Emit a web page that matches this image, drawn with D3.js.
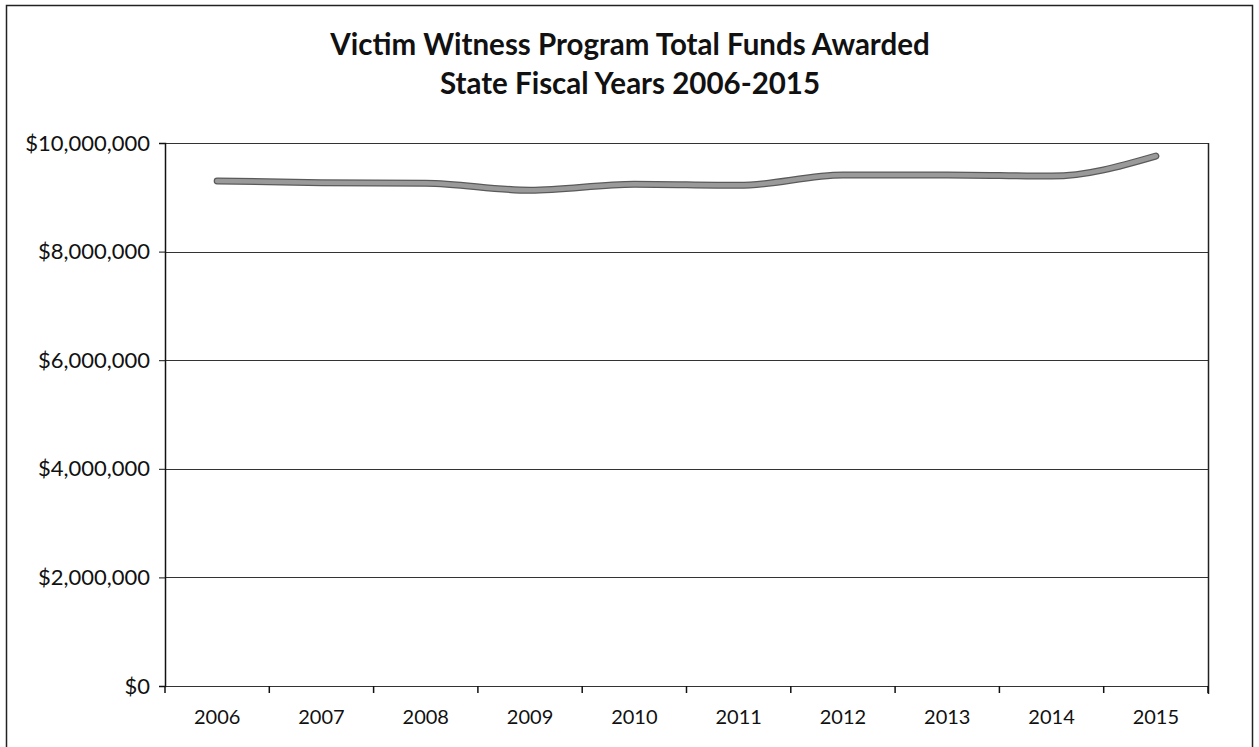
<!DOCTYPE html>
<html><head><meta charset="utf-8">
<script src="https://cdn.jsdelivr.net/npm/d3@7"></script>
<style>body{margin:0;background:#fff}svg{display:block}text{font-family:Lato,"Open Sans",sans-serif}</style>
</head><body>
<svg id="c" width="1259" height="747"></svg>
<script>
const years = ["2006","2007","2008","2009","2010","2011","2012","2013","2014","2015"];
const funds = [9300000,9270000,9260000,9130000,9240000,9220000,9410000,9410000,9390000,9760000];
const yTicks = [0,2000000,4000000,6000000,8000000,10000000];
const titleLines = ["Victim Witness Program Total Funds Awarded","State Fiscal Years 2006-2015"];

const svg = d3.select("#c");
const m = {l:165, r:1208, t:143, b:686};
svg.append("rect").attr("x",6.5).attr("y",5.5).attr("width",1246).attr("height",760)
  .attr("fill","none").attr("stroke","#222").attr("stroke-width",1.5);

svg.selectAll("text.title").data(titleLines).join("text").attr("class","title")
  .attr("x",630).attr("y",(d,i)=>55+i*39).attr("text-anchor","middle")
  .attr("font-weight","bold").attr("font-size",29.5).attr("fill","#111").text(d=>d);

const x = d3.scaleBand().domain(years).range([m.l,m.r]);
const y = d3.scaleLinear().domain([0,10000000]).range([m.b,m.t]);

svg.append("g").selectAll("line").data(yTicks).join("line")
  .attr("x1",m.l).attr("x2",m.r).attr("y1",d=>Math.round(y(d))+0.5).attr("y2",d=>Math.round(y(d))+0.5)
  .attr("stroke","#333").attr("stroke-width",1);
svg.append("line").attr("x1",m.r+0.5).attr("x2",m.r+0.5).attr("y1",m.t).attr("y2",m.b+8).attr("stroke","#222").attr("stroke-width",1.5);

const fmt = d=>"$"+d3.format(",")(d);
const ya = svg.append("g").attr("transform",`translate(${m.l},0)`)
  .call(d3.axisLeft(y).tickValues(yTicks).tickFormat(fmt).tickSize(6).tickPadding(9));
ya.select(".domain").attr("stroke","#111").attr("stroke-width",1.5);
ya.selectAll("line").attr("stroke","#111");
ya.selectAll("text").attr("font-size",22).attr("fill","#111");

const xa = svg.append("g").attr("transform",`translate(0,${m.b})`)
  .call(d3.axisBottom(x).tickSize(0).tickPadding(24));
xa.select(".domain").remove();
xa.selectAll("text").attr("font-size",20).attr("fill","#111");
const bounds = years.map(d=>x(d)).concat([m.r]);
svg.append("g").selectAll("line").data(bounds).join("line")
  .attr("x1",d=>d).attr("x2",d=>d).attr("y1",m.b).attr("y2",m.b+7).attr("stroke","#111").attr("stroke-width",1.5);

const line = d3.line().x((d,i)=>x(years[i])+x.bandwidth()/2).y(d=>y(d)).curve(d3.curveMonotoneX);
svg.append("path").datum(funds).attr("d",line).attr("fill","none")
  .attr("stroke","#5a5a5a").attr("stroke-width",7).attr("stroke-linecap","round");
svg.append("path").datum(funds).attr("d",line).attr("fill","none")
  .attr("stroke","#9a9a9a").attr("stroke-width",4.5).attr("stroke-linecap","round");
</script>
</body></html>
